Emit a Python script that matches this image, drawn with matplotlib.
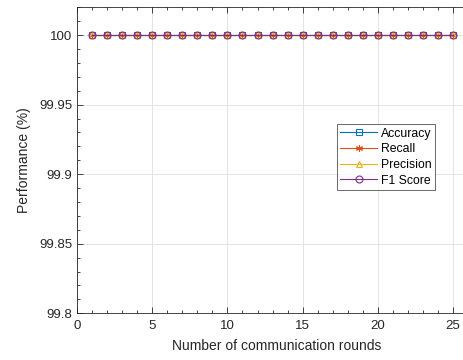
import numpy as np
import matplotlib
matplotlib.use("Agg")
import matplotlib.pyplot as plt
from matplotlib.ticker import MultipleLocator

plt.rcParams['font.family'] = ['Liberation Sans', 'DejaVu Sans']

rounds = list(range(1, 26))
accuracy = [100.0] * 25
recall = [100.0] * 25
precision = [100.0] * 25
f1_score = [100.0] * 25

series_names = ["Accuracy", "Recall", "Precision", "F1 Score"]
colors = ["#0072BD", "#D95319", "#EDB120", "#7E2F8E"]
markers = ["s", (6, 2, 0), "^", "o"]

fig = plt.figure(figsize=(4.64, 3.60), dpi=100)
ax = fig.add_axes([0.166, 0.1297, 0.859, 0.85])

for vals, name, c, m in zip([accuracy, recall, precision, f1_score],
                            series_names, colors, markers):
    ax.plot(rounds, vals, color=c, marker=m, markersize=5,
            markerfacecolor="none", markeredgewidth=0.8,
            linewidth=0.8, label=name)

ax.set_xlim(0, 26.5)
ax.set_ylim(99.8, 100.02)
ax.set_xticks([0, 5, 10, 15, 20, 25])
ax.set_yticks([99.8, 99.85, 99.9, 99.95, 100])
ax.set_yticklabels(["99.8", "99.85", "99.9", "99.95", "100"])
ax.xaxis.set_minor_locator(MultipleLocator(1))
ax.yaxis.set_minor_locator(MultipleLocator(0.01))
ax.tick_params(which="both", direction="in", top=True, right=True,
               colors="#262626", labelsize=9.5, width=0.6)
ax.tick_params(which="major", length=4)
ax.tick_params(which="minor", length=2.2)
ax.tick_params(axis="x", which="major", pad=5)
ax.grid(True, which="major", color="#E3E3E3", linewidth=0.7)
ax.set_axisbelow(True)
for s in ax.spines.values():
    s.set_color("#262626")
    s.set_linewidth(0.6)

ax.set_xlabel("Number of communication rounds", fontsize=10, color="#262626", labelpad=5)
ax.set_ylabel("Performance (%)", fontsize=10, color="#262626", labelpad=6)

leg = ax.legend(loc="upper right", bbox_to_anchor=(435 / 464, 1 - 124 / 360),
                bbox_transform=fig.transFigure, fontsize=8.8, frameon=True,
                fancybox=False, edgecolor="#262626", handlelength=3.0,
                handletextpad=0.3, borderpad=0.3, labelspacing=0.3,
                borderaxespad=0)
leg.get_frame().set_linewidth(0.6)

fig.savefig("out.png", dpi=100)
